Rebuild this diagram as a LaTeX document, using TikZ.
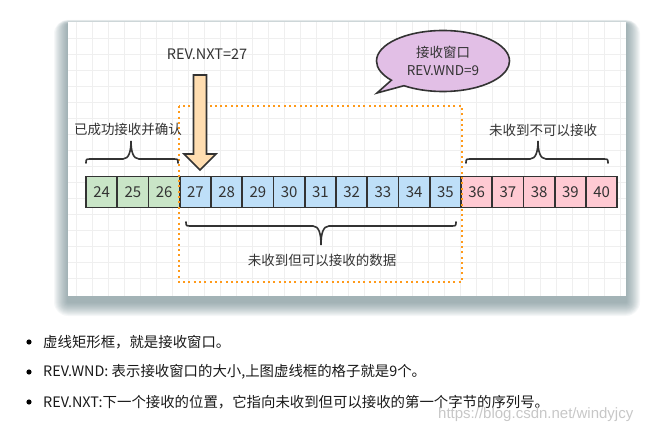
\documentclass[tikz,border=0pt]{standalone}
\usepackage{fontspec}
\setmainfont{Noto Sans CJK SC}
\newfontfamily\markfont{Liberation Sans}
\usepackage{tikz}
\usetikzlibrary{shapes.callouts}
\definecolor{ink}{HTML}{333333}
\definecolor{gridc}{HTML}{EFEFEF}
\definecolor{shadowc}{HTML}{5E7A80}
\definecolor{ackfill}{HTML}{C9E5C7}
\definecolor{winfill}{HTML}{BEDFF8}
\definecolor{nofill}{HTML}{FFCAD3}
\definecolor{arrfill}{HTML}{FFDDB0}
\definecolor{bubfill}{HTML}{E2BFE6}
\definecolor{dotc}{HTML}{FF9A1A}

\begin{document}
\begin{tikzpicture}[x=1pt,y=-1pt,
  cell/.style={draw=ink,line width=1.6,inner sep=0,minimum width=31.25,minimum height=31,
    text=ink,font=\fontsize{15}{18}\selectfont},
  lbl/.style={text=ink,font=\fontsize{13.5}{18}\selectfont,inner sep=0},
  brace/.style={draw=ink,line width=1.6,line cap=round},
  item/.style={anchor=west,inner sep=0,text=black!90,font=\fontsize{14.4}{18}\selectfont}]
\useasboundingbox (0,0) rectangle (654,433);

%Card shadow
\foreach \s in {1,...,14}
  \fill[shadowc,opacity=0.06,rounded corners=\s] (68-\s,24-0.3*\s) rectangle (626+\s,302+\s);
%Card
\fill[white] (68,22) rectangle (626,296);
\begin{scope}
\clip (68,22) rectangle (626,296);
\foreach \gx in {76,92,...,620}
  \draw[gridc,line width=0.7] (\gx,22) -- (\gx,296);
\foreach \gy in {38,54,...,290}
  \draw[gridc,line width=0.7] (68,\gy) -- (626,\gy);
\end{scope}

%Cells: received and acknowledged
\foreach \n in {24,...,26}
  \node[cell,fill=ackfill] (c\n) at (101.6+31.25*\n-750,192) {\n};
%Cells: receive window
\foreach \n in {27,...,35}
  \node[cell,fill=winfill] (c\n) at (101.6+31.25*\n-750,192) {\n};
%Cells: not allowed yet
\foreach \n in {36,...,40}
  \node[cell,fill=nofill] (c\n) at (101.6+31.25*\n-750,192) {\n};

%Dotted window frame
\coordinate (wtop) at (0,106);
\coordinate (wbot) at (0,282);
\draw[dotc,line width=2,dash pattern=on 2pt off 3.3pt] (c27.west |- wtop) rectangle (c35.east |- wbot);

%Down arrow
\draw[ink,fill=arrfill,line width=1.6,line join=miter] (193.5,75) -- (206.5,75) -- (206.5,154) -- (216,154)
  -- (200,170) -- (184,154) -- (193.5,154) -- cycle;
\node[lbl,font=\fontsize{14.5}{18}\selectfont] (nxt) at (207,54) {REV.NXT=27};

%Callout
\node[ellipse callout,draw=ink,line width=1.6,fill=bubfill,minimum width=133,minimum height=61,
  inner sep=0,callout absolute pointer={(377,93)},text=ink,align=center,
  font=\fontsize{13.5}{18}\selectfont] (wnd) at (443,61) {接收窗口\\REV.WND=9};

%Brace: left top
\draw[brace] (86,163) .. controls (86,159) .. (92,159) -- (123,159) .. controls (129,159) and (131,151) .. (131,141)
  .. controls (131,151) and (133,159) .. (139,159) -- (172,159) .. controls (178,159) .. (178,163);
\node[lbl] (acked) at (128,129) {已成功接收并确认};
%Brace: right top
\draw[brace] (466,163) .. controls (466,159) .. (472,159) -- (530,159) .. controls (536,159) and (538,151) .. (538,141)
  .. controls (538,151) and (540,159) .. (546,159) -- (602,159) .. controls (608,159) .. (608,163);
\node[lbl] (refused) at (543,130) {未收到不可以接收};
%Brace: bottom
\draw[brace] (186,222) .. controls (186,226) .. (192,226) -- (313,226) .. controls (319,226) and (321,234) .. (321,245)
  .. controls (321,234) and (323,226) .. (329,226) -- (450,226) .. controls (456,226) .. (456,222);
\node[lbl] (waiting) at (322,260) {未收到但可以接收的数据};

%Bullet list
\foreach \yy/\nm in {342/b1,372/b2,402/b3}
  \fill[black] (29,\yy) circle (2.6) coordinate (\nm);
\node[item] (t1) at (43,342) {虚线矩形框，就是接收窗口。};
\node[item] (t2) at (43,372) {REV.WND: 表示接收窗口的大小,上图虚线框的格子就是9个。};
\node[item] (t3) at (43,402) {REV.NXT:下一个接收的位置，它指向未收到但可以接收的第一个字节的序列号。};

%Watermark
\node[anchor=west,inner sep=0,text=black!22,font=\markfont\fontsize{15}{18}\selectfont] (mark) at (438,415) {https://blog.csdn.net/windyjcy};

\end{tikzpicture}
\end{document}
